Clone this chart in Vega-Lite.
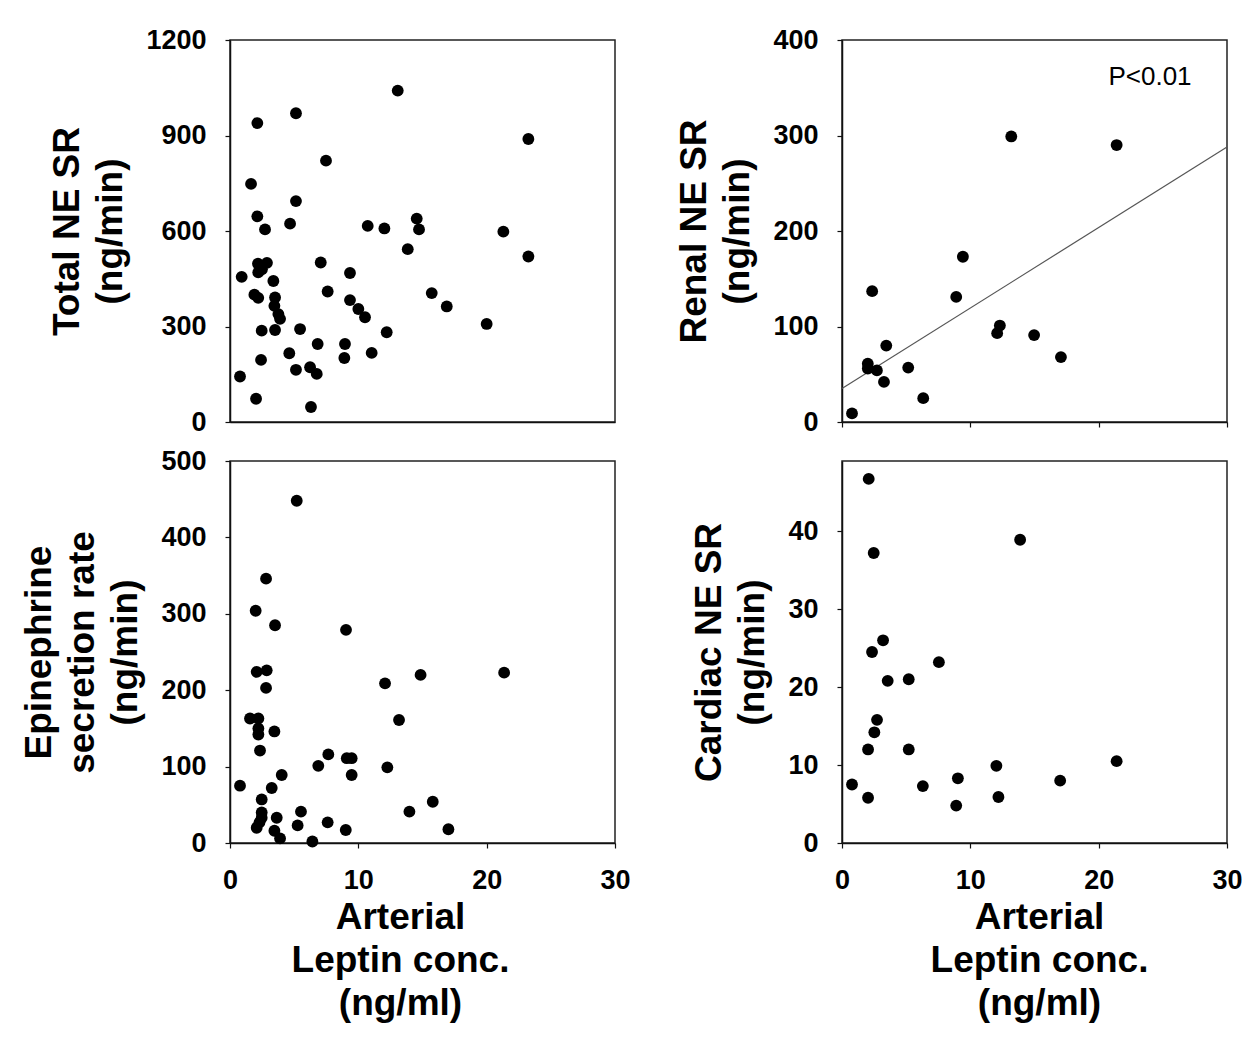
{
  "$schema": "https://vega.github.io/schema/vega-lite/v6.json",
  "autosize": {"type": "none"},
  "padding": {"left": 230, "top": 40, "right": 1012, "bottom": 1002},
  "background": "white",
  "columns": 2,
  "spacing": {"row": 10, "column": 44},
  "config": {
    "font": "Liberation Sans",
    "view": {"stroke": "#222222", "strokeWidth": 1.5},
    "axis": {
      "grid": false, "domainColor": "#111111", "domainWidth": 1.5,
      "tickColor": "#111111", "tickSize": 5, "tickWidth": 1.2,
      "labelFont": "Liberation Sans", "labelFontSize": 27, "labelFontWeight": "bold", "labelColor": "black",
      "labelFlush": false, "labelOverlap": false, "format": "d",
      "titleFont": "Liberation Sans", "titleFontSize": 37, "titleFontWeight": "bold",
      "titleColor": "black", "titleLineHeight": 43
    },
    "axisY": {"labelPadding": 19, "titlePadding": 16},
    "axisX": {"labelPadding": 19, "titlePadding": 6}
  },
  "datasets": {
    "tl": [
      {"x": 13.07, "y": 1041}, {"x": 5.14, "y": 970}, {"x": 2.13, "y": 939}, {"x": 7.48, "y": 821},
      {"x": 1.64, "y": 748}, {"x": 5.14, "y": 694}, {"x": 2.13, "y": 646}, {"x": 2.73, "y": 605},
      {"x": 4.68, "y": 623}, {"x": 10.73, "y": 616}, {"x": 12.03, "y": 608}, {"x": 14.55, "y": 639},
      {"x": 14.73, "y": 605}, {"x": 13.85, "y": 543}, {"x": 2.18, "y": 497}, {"x": 2.88, "y": 500},
      {"x": 2.49, "y": 480}, {"x": 2.2, "y": 470}, {"x": 0.91, "y": 456}, {"x": 3.38, "y": 443},
      {"x": 7.07, "y": 501}, {"x": 9.35, "y": 468}, {"x": 1.9, "y": 400}, {"x": 2.2, "y": 390},
      {"x": 3.51, "y": 391}, {"x": 3.46, "y": 365}, {"x": 3.77, "y": 339}, {"x": 3.9, "y": 324},
      {"x": 3.51, "y": 289}, {"x": 7.61, "y": 410}, {"x": 9.35, "y": 383}, {"x": 10.0, "y": 355},
      {"x": 10.52, "y": 329}, {"x": 2.47, "y": 287}, {"x": 5.46, "y": 292}, {"x": 12.21, "y": 282},
      {"x": 6.83, "y": 245}, {"x": 8.96, "y": 245}, {"x": 4.62, "y": 216}, {"x": 11.04, "y": 217},
      {"x": 8.91, "y": 201}, {"x": 2.42, "y": 195}, {"x": 5.14, "y": 164}, {"x": 6.24, "y": 172},
      {"x": 6.76, "y": 151}, {"x": 0.78, "y": 143}, {"x": 2.03, "y": 73}, {"x": 6.31, "y": 47},
      {"x": 23.25, "y": 889}, {"x": 21.3, "y": 598}, {"x": 23.25, "y": 520}, {"x": 15.72, "y": 405},
      {"x": 16.89, "y": 363}, {"x": 20.0, "y": 308}
    ],
    "bl": [
      {"x": 5.2, "y": 448}, {"x": 2.81, "y": 346}, {"x": 2.0, "y": 304}, {"x": 3.51, "y": 285},
      {"x": 9.04, "y": 279}, {"x": 2.08, "y": 224}, {"x": 2.86, "y": 226}, {"x": 2.81, "y": 203},
      {"x": 12.08, "y": 209}, {"x": 14.85, "y": 220}, {"x": 1.56, "y": 163}, {"x": 2.21, "y": 163},
      {"x": 2.21, "y": 150}, {"x": 2.21, "y": 142}, {"x": 3.46, "y": 146}, {"x": 2.34, "y": 121},
      {"x": 13.17, "y": 161}, {"x": 7.66, "y": 116}, {"x": 6.88, "y": 101}, {"x": 9.1, "y": 111},
      {"x": 9.48, "y": 111}, {"x": 9.48, "y": 89}, {"x": 12.26, "y": 99}, {"x": 4.03, "y": 89},
      {"x": 0.78, "y": 75}, {"x": 3.25, "y": 72}, {"x": 2.47, "y": 57}, {"x": 2.47, "y": 40},
      {"x": 2.47, "y": 33}, {"x": 2.3, "y": 27}, {"x": 2.08, "y": 20}, {"x": 3.64, "y": 33},
      {"x": 3.46, "y": 16}, {"x": 3.9, "y": 6}, {"x": 5.53, "y": 41}, {"x": 5.27, "y": 23},
      {"x": 7.61, "y": 27}, {"x": 9.02, "y": 17}, {"x": 6.42, "y": 2}, {"x": 13.98, "y": 41},
      {"x": 21.36, "y": 223}, {"x": 15.8, "y": 54}, {"x": 17.02, "y": 18}
    ],
    "tr": [
      {"x": 13.19, "y": 299}, {"x": 21.4, "y": 290}, {"x": 9.42, "y": 173}, {"x": 8.9, "y": 131},
      {"x": 2.35, "y": 137}, {"x": 12.3, "y": 101}, {"x": 12.09, "y": 93}, {"x": 14.97, "y": 91},
      {"x": 17.06, "y": 68}, {"x": 3.45, "y": 80}, {"x": 2.01, "y": 61}, {"x": 2.01, "y": 56},
      {"x": 2.72, "y": 54}, {"x": 5.16, "y": 57}, {"x": 3.27, "y": 42}, {"x": 6.33, "y": 25},
      {"x": 0.78, "y": 9}
    ],
    "trline": [{"x": 0, "y": 35}, {"x": 30, "y": 288}],
    "trtext": [{"x": 24.0, "y": 361, "label": "P<0.01"}],
    "br": [
      {"x": 2.08, "y": 46.7}, {"x": 2.47, "y": 37.2}, {"x": 13.88, "y": 38.9}, {"x": 3.2, "y": 26.0},
      {"x": 2.34, "y": 24.5}, {"x": 7.55, "y": 23.2}, {"x": 3.56, "y": 20.8}, {"x": 5.2, "y": 21.0},
      {"x": 2.73, "y": 15.8}, {"x": 2.52, "y": 14.2}, {"x": 2.03, "y": 12.0}, {"x": 5.2, "y": 12.0},
      {"x": 12.03, "y": 9.9}, {"x": 21.4, "y": 10.5}, {"x": 0.78, "y": 7.5}, {"x": 6.3, "y": 7.3},
      {"x": 9.03, "y": 8.3}, {"x": 17.0, "y": 8.0}, {"x": 2.03, "y": 5.8}, {"x": 12.19, "y": 5.9},
      {"x": 8.9, "y": 4.8}
    ]
  },
  "concat": [
    {
      "width": 385, "height": 382,
      "data": {"name": "tl"},
      "mark": {"type": "circle", "size": 140, "color": "black", "opacity": 1},
      "encoding": {
        "x": {"field": "x", "type": "quantitative", "scale": {"domain": [0, 30], "nice": false},
              "axis": {"values": [0, 10, 20, 30], "labels": false, "ticks": false, "title": null}},
        "y": {"field": "y", "type": "quantitative", "scale": {"domain": [0, 1200], "nice": false},
              "axis": {"values": [0, 300, 600, 900, 1200], "title": ["Total NE SR", "(ng/min)"]}}
      }
    },
    {
      "width": 385, "height": 382,
      "layer": [
        {
          "data": {"name": "trline"},
          "mark": {"type": "line", "color": "#555555", "strokeWidth": 1.2},
          "encoding": {
            "x": {"field": "x", "type": "quantitative"},
            "y": {"field": "y", "type": "quantitative"}
          }
        },
        {
          "data": {"name": "tr"},
          "mark": {"type": "circle", "size": 140, "color": "black", "opacity": 1},
          "encoding": {
            "x": {"field": "x", "type": "quantitative", "scale": {"domain": [0, 30], "nice": false},
                  "axis": {"values": [0, 10, 20, 30], "labels": false, "title": null}},
            "y": {"field": "y", "type": "quantitative", "scale": {"domain": [0, 400], "nice": false},
                  "axis": {"values": [0, 100, 200, 300, 400], "title": ["Renal NE SR", "(ng/min)"]}}
          }
        },
        {
          "data": {"name": "trtext"},
          "mark": {"type": "text", "fontSize": 26, "font": "Liberation Sans", "color": "black", "align": "center", "baseline": "middle"},
          "encoding": {
            "x": {"field": "x", "type": "quantitative"},
            "y": {"field": "y", "type": "quantitative"},
            "text": {"field": "label"}
          }
        }
      ]
    },
    {
      "width": 385, "height": 382,
      "data": {"name": "bl"},
      "mark": {"type": "circle", "size": 140, "color": "black", "opacity": 1},
      "encoding": {
        "x": {"field": "x", "type": "quantitative", "scale": {"domain": [0, 30], "nice": false},
              "axis": {"values": [0, 10, 20, 30], "title": ["Arterial", "Leptin conc.", "(ng/ml)"], "titleX": 170}},
        "y": {"field": "y", "type": "quantitative", "scale": {"domain": [0, 500], "nice": false},
              "axis": {"values": [0, 100, 200, 300, 400, 500], "title": ["Epinephrine", "secretion rate", "(ng/min)"]}}
      }
    },
    {
      "width": 385, "height": 382,
      "data": {"name": "br"},
      "mark": {"type": "circle", "size": 140, "color": "black", "opacity": 1},
      "encoding": {
        "x": {"field": "x", "type": "quantitative", "scale": {"domain": [0, 30], "nice": false},
              "axis": {"values": [0, 10, 20, 30], "title": ["Arterial", "Leptin conc.", "(ng/ml)"], "titleX": 197}},
        "y": {"field": "y", "type": "quantitative", "scale": {"domain": [0, 49], "nice": false},
              "axis": {"values": [0, 10, 20, 30, 40], "title": ["Cardiac NE SR", "(ng/min)"]}}
      }
    }
  ]
}
